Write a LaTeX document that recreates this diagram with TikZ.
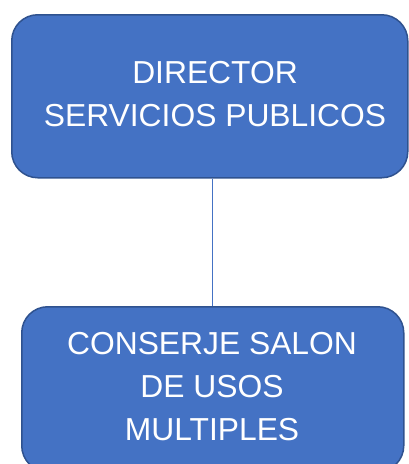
\documentclass[tikz,border=0pt]{standalone}
\usepackage{fontspec}
\setmainfont{Liberation Sans}
\definecolor{boxfill}{HTML}{4472C4}
\definecolor{boxline}{HTML}{2F528F}
\begin{document}
\begin{tikzpicture}[x=1pt,y=-1pt,
  box/.style={draw=boxline, fill=boxfill, line width=1.5pt, rounded corners=26pt, inner sep=0pt, anchor=north west},
  lbl/.style={text=white, font=\fontsize{31.8}{43}\selectfont, align=center, inner sep=0pt},
  conn/.style={draw=boxfill, line width=1pt}]
\useasboundingbox (0,0) rectangle (409,464);
\clip (0,0) rectangle (409,464);
\node[box, minimum width=396pt, minimum height=163pt] (top) at (11,14) {};
\node[box, minimum width=382pt, minimum height=165pt] (bot) at (21,306) {};
\draw[conn] (bot.north |- top.south) -- (bot.north);
\node[lbl, anchor=base] (toptext) at (215,126) {DIRECTOR\\SERVICIOS PUBLICOS};
\node[lbl, anchor=base] (bottext) at (212,440) {CONSERJE SALON\\DE USOS\\MULTIPLES};
\end{tikzpicture}
\end{document}
